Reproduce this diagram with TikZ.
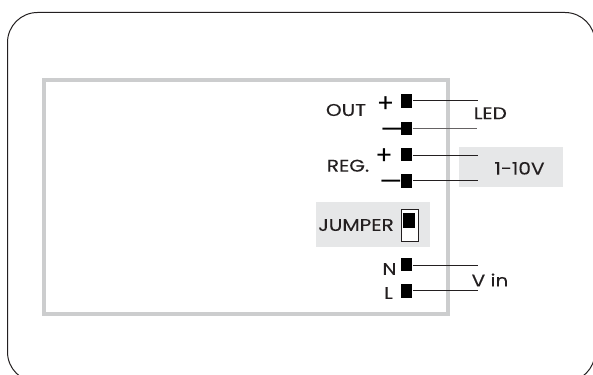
\documentclass[tikz,border=0pt]{standalone}
\usepackage{fontspec}
\setmainfont{Poppins}
\newfontfamily\labf[FakeStretch=1.18,FakeBold=0.12]{Poppins}
\definecolor{ink}{HTML}{231F20}
\definecolor{frameg}{HTML}{CCCDCE}
\definecolor{boxg}{HTML}{E6E7E8}
\tikzset{
  lab/.style={inner sep=0pt,text=ink,font=\labf\fontsize{17}{17}\selectfont},
  sym/.style={inner sep=0pt,text=black,font=\fontsize{25.5}{25.5}\selectfont},
  pin/.style={fill=black,draw=none,inner sep=0pt,minimum width=11.5pt,minimum height=13.5pt},
  wire/.style={draw=ink,line width=1pt},
  bg/.style={fill=boxg,draw=none,inner sep=0pt}
}
\begin{document}
\begin{tikzpicture}[x=1pt,y=-1pt]
\useasboundingbox (0,0) rectangle (593,374);
\clip (0,0) rectangle (593,374);
\fill[white] (0,0) rectangle (593,374);
\draw[ink,line width=1pt,rounded corners=30pt] (7.5,12.5) rectangle (595,382);
\draw[frameg,line width=4.4pt] (43.7,80) rectangle (447.9,313.8);
% grey boxes
\node[bg,minimum width=103.4pt,minimum height=40pt] (vbox) at (511,167.3) {};
\node[bg,minimum width=114pt,minimum height=45pt] (jbox) at (373,224.8) {};
% pins
\node[pin] (s1) at (406.7,101) {};
\node[pin] (s2) at (406.7,128.3) {};
\node[pin] (s3) at (406.7,154.3) {};
\node[pin] (s4) at (406.7,181) {};
\node[pin] (sn) at (406.7,264.7) {};
\node[pin] (sl) at (406.7,290.8) {};
% wire ends
\coordinate (e1) at (478,100.3);
\coordinate (e2) at (477,128.7);
\coordinate (e3) at (478,155);
\coordinate (e4) at (478,180);
\coordinate (en) at (478,265.3);
\coordinate (el) at (478,290);
\draw[wire] (s1.east |- e1) -- (e1);
\draw[wire,draw=ink!70] (s2.east |- e2) -- (e2);
\draw[wire] (s3.east |- e3) -- (e3);
\draw[wire] (s4.east |- e4) -- (e4);
\draw[wire] (sn.east |- en) -- (en);
\draw[wire] (sl.east |- el) -- (el);
% jumper
\node[draw=ink,fill=white,line width=0.9pt,inner sep=0pt,minimum width=17.5pt,minimum height=32pt] (jsw) at (409.7,225) {};
\node[fill=black,inner sep=0pt,minimum width=12pt,minimum height=15.6pt] (jk) at (409.4,220.5) {};
% labels
\node[lab] (out) at (346,110) {OUT};
\node[lab] (reg) at (348,165.7) {REG.};
\node[lab] (led) at (490.3,113.3) {LED};
\node[lab] (v10) at (519.5,168.3) {1-10V};
\node[lab] (jum) at (356,225) {JUMPER};
\node[lab] (vin) at (490,280) {V in};
\node[lab] (nl) at (389.5,269) {N};
\node[lab] (ll) at (388.5,293) {L};
\node[sym] (p1) at (385.7,104.9) {+};
\node[sym] (p2) at (384,156.2) {+};
\node[sym] (m1) at (391.8,132.9) {—};
\node[sym] (m2) at (391,185.6) {—};
\end{tikzpicture}
\end{document}
